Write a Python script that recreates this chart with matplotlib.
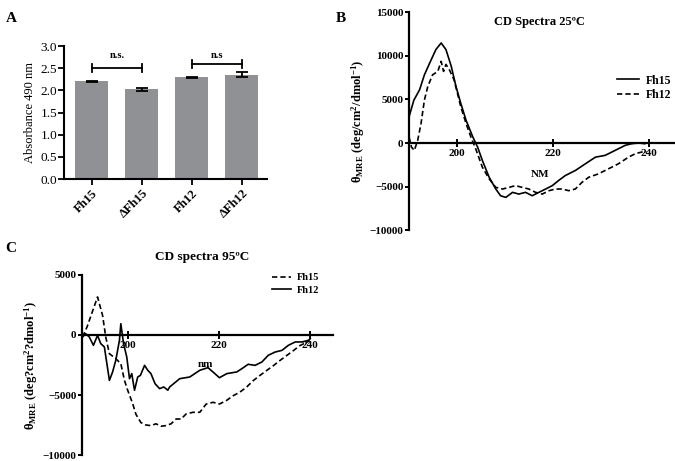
#!/usr/bin/env python3
# -*- coding: utf-8 -*-

"""
plot.py

Figura com tres paineis:
A - absorbancia 490 nm (barras com erro)
B - espectro CD a 25 C
C - espectro CD a 95 C
"""

import matplotlib
matplotlib.use("Agg")
import matplotlib.pyplot as plt

# ---- painel A ----
bar_labels = ["Fh15", "\u0394Fh15", "Fh12", "\u0394Fh12"]
bar_values = [2.20, 2.02, 2.29, 2.35]
bar_errors = [0.02, 0.04, 0.02, 0.06]

# ---- painel B (25 C) ----
b_fh15_nm = [190.0, 191.0, 192.2, 193.2, 194.3, 195.6, 196.7, 197.7, 198.8, 199.8,
             200.8, 201.9, 203.3, 204.3, 205.3, 206.7, 208.1, 209.1, 210.2, 211.6,
             212.9, 214.3, 215.7, 217.1, 218.5, 219.9, 221.2, 222.6, 224.7, 226.8,
             228.9, 230.9, 233.0, 235.1, 236.5, 237.9, 239.2]
b_fh15_val = [3000, 4900, 6100, 7800, 9150, 10700, 11460, 10700, 8800, 6460,
              4540, 2600, 700, -460, -2000, -3900, -5270, -6040, -6230, -5650,
              -5850, -5650, -6040, -5650, -5270, -4880, -4300, -3730, -3150, -2380,
              -1620, -1420, -850, -270, -80, 0, -80]

b_fh12_nm = [190.0, 190.5, 191.1, 191.8, 192.5, 193.2, 193.9, 194.9, 196.0, 196.7,
             197.2, 197.7, 198.4, 199.4, 200.1, 200.8, 201.9, 202.9, 203.9, 205.3,
             206.7, 208.1, 209.5, 210.9, 212.2, 213.6, 215.0, 216.4, 217.8, 219.2,
             220.6, 222.0, 223.3, 224.7, 226.1, 227.5, 229.5, 231.6, 233.7, 235.8,
             237.2, 238.5, 239.6]
b_fh12_val = [700, -460, -850, 300, 2230, 4900, 6460, 7800, 8200, 9350,
              8200, 9000, 8400, 7230, 5700, 4150, 2230, 700, -650, -2770,
              -4100, -5080, -5270, -5080, -4880, -5080, -5270, -5650, -5850, -5460,
              -5270, -5270, -5460, -5270, -4500, -3920, -3540, -2960, -2380, -1620,
              -1230, -1040, -1040]

# ---- painel C (95 C) ----
c_fh15_nm = [190.1, 191.1, 193.4, 194.5, 195.2, 196.0, 197.4, 198.5, 199.3, 200.0,
             201.1, 201.8, 202.9, 204.0, 205.1, 206.2, 207.3, 208.4, 209.5, 210.6,
             211.7, 212.8, 214.3, 215.8, 217.2, 218.7, 220.1, 221.6, 223.1, 224.5,
             226.0, 227.5, 228.9, 230.4, 231.9, 233.3, 234.8, 236.3, 237.7, 239.2,
             239.9]
c_fh15_val = [-170, 670, 3170, 1640, -170, -1560, -1970, -2390, -3780, -4600,
              -5720, -6600, -7300, -7500, -7550, -7400, -7600, -7550, -7400, -7000,
              -7000, -6580, -6440, -6440, -5750, -5610, -5750, -5470, -5060, -4780,
              -4360, -3800, -3390, -2970, -2560, -2140, -1720, -1300, -890, -610,
              -470]

c_fh12_nm = [190.1, 190.8, 191.6, 192.5, 193.4, 194.1, 194.9, 196.0, 196.7, 197.4,
             198.2, 198.5, 199.1, 199.8, 200.4, 200.9, 201.5, 202.2, 202.8, 203.7,
             204.4, 205.1, 206.0, 207.0, 207.9, 208.8, 209.2, 211.4, 213.6, 215.8,
             217.6, 219.1, 220.1, 221.7, 223.9, 225.0, 226.4, 227.9, 229.4, 230.8,
             232.3, 233.8, 235.2, 236.7, 238.2, 239.6, 240.0]
c_fh12_val = [-170, 110, -170, -860, -30, -720, -1000, -3780, -3080, -2110,
              -440, 940, -720, -1830, -3640, -3220, -4610, -3500, -3360, -2530,
              -2940, -3220, -4060, -4470, -4330, -4600, -4330, -3640, -3500, -2940,
              -2720, -3220, -3560, -3220, -3080, -2810, -2440, -2530, -2250, -1690,
              -1420, -1280, -860, -580, -580, -440, -310]

SERIF = ["Liberation Serif", "DejaVu Serif"]
BAR_COLOR = "#909194"
DASH = (0, (3.2, 1.8))


def style_cd_axis(ax, xlim, ylim, yticks):
    """Eixos estilo GraphPad: spine esquerda em x=190, eixo x em y=0."""
    ax.set_xlim(*xlim)
    ax.set_ylim(*ylim)
    ax.spines["top"].set_visible(False)
    ax.spines["right"].set_visible(False)
    ax.spines["bottom"].set_position(("data", 0))
    for s in ("left", "bottom"):
        ax.spines[s].set_linewidth(1.6)
    ax.set_xticks([200, 220, 240])
    ax.set_yticks(yticks)
    ax.tick_params(axis="y", direction="out", length=3, width=1.4, pad=1, labelsize=8)
    ax.tick_params(axis="x", direction="inout", length=6, width=1.4, pad=1, labelsize=8)
    for lab in ax.get_xticklabels() + ax.get_yticklabels():
        lab.set_fontweight("bold")


def panel_a(fig):
    ax = fig.add_axes([0.0948, 0.6117, 0.3007, 0.2885])
    xs = list(range(len(bar_values)))
    ax.bar(xs, bar_values, width=0.66, color=BAR_COLOR, zorder=2)
    ax.errorbar(xs, bar_values, yerr=bar_errors, fmt="none", ecolor="black",
                elinewidth=1.3, capsize=4, capthick=1.3, zorder=3)
    ax.set_xlim(-0.56, 3.5)
    ax.set_ylim(0, 3.0)
    ax.set_yticks([0.0, 0.5, 1.0, 1.5, 2.0, 2.5, 3.0])
    ax.set_yticklabels([f"{v:.1f}" for v in ax.get_yticks()])
    ax.set_xticks(xs)
    ax.set_xticklabels(bar_labels, rotation=45, ha="right", rotation_mode="anchor",
                       fontweight="bold", fontsize=9)
    ax.spines["top"].set_visible(False)
    ax.spines["right"].set_visible(False)
    for s in ("left", "bottom"):
        ax.spines[s].set_linewidth(1.5)
    ax.tick_params(axis="y", direction="out", length=4, width=1.3, labelsize=9.5, pad=1)
    ax.tick_params(axis="x", direction="out", length=4, width=1.3, pad=2)
    ax.set_ylabel("Absorbance 490 nm", fontsize=9, labelpad=3)

    # colchetes n.s.
    for (x0, x1, y, txt) in [(0, 1, 2.50, "n.s."), (2, 3, 2.59, "n.s")]:
        ax.plot([x0, x1], [y, y], color="black", lw=1.3, zorder=4)
        ax.plot([x0, x0], [y - 0.09, y + 0.09], color="black", lw=1.3, zorder=4)
        ax.plot([x1, x1], [y - 0.09, y + 0.09], color="black", lw=1.3, zorder=4)
        ax.text((x0 + x1) / 2, 2.68, txt, ha="center", va="bottom",
                fontsize=7.5, fontweight="bold")


def panel_b(fig):
    ax = fig.add_axes([0.606, 0.5004, 0.394, 0.4735])
    ax.plot(b_fh15_nm, b_fh15_val, color="black", lw=1.2, label="Fh15")
    ax.plot(b_fh12_nm, b_fh12_val, color="black", lw=1.2, ls=DASH, label="Fh12")
    style_cd_axis(ax, (190, 245.5), (-10000, 15000), [-10000, -5000, 0, 5000, 10000, 15000])
    ax.set_xlabel("NM", fontsize=8, fontweight="bold")
    ax.xaxis.set_label_coords(0.492, 0.276)
    ax.set_ylabel("\u03b8$_{\\mathrm{MRE}}$ (deg/cm$^{2}$/dmol$^{-1}$)", fontsize=9,
                  fontweight="bold", labelpad=2)
    ax.text(0.49, 0.955, "CD Spectra 25\u00baC", transform=ax.transAxes, ha="center",
            va="center", fontsize=9, fontweight="bold")
    ax.legend(loc="center", bbox_to_anchor=(0.885, 0.652), frameon=False,
              handlelength=1.8, handletextpad=0.6, labelspacing=0.25,
              prop={"family": SERIF, "weight": "bold", "size": 8.5})


def panel_c(fig):
    ax = fig.add_axes([0.1215, 0.0130, 0.372, 0.3905])
    ax.plot(c_fh15_nm, c_fh15_val, color="black", lw=1.2, ls=DASH, label="Fh15")
    ax.plot(c_fh12_nm, c_fh12_val, color="black", lw=1.2, label="Fh12")
    style_cd_axis(ax, (190, 245), (-10000, 5000), [-10000, -5000, 0, 5000])
    ax.set_xlabel("nm", fontsize=8, fontweight="bold")
    ax.xaxis.set_label_coords(0.49, 0.528)
    ax.set_ylabel("\u03b8$_{\\mathrm{MRE}}$ (deg?cm$^{2}$?dmol$^{-1}$)", fontsize=9,
                  fontweight="bold", labelpad=2)
    ax.text(0.48, 1.10, "CD spectra 95\u00baC", transform=ax.transAxes, ha="center",
            va="center", fontsize=9.5, fontweight="bold")
    ax.legend(loc="center", bbox_to_anchor=(0.85, 0.95), frameon=False,
              handlelength=1.8, handletextpad=0.6, labelspacing=0.3,
              prop={"family": SERIF, "weight": "bold", "size": 7.5})


def main():
    plt.rcParams["font.family"] = SERIF
    plt.rcParams["mathtext.fontset"] = "custom"
    plt.rcParams["mathtext.rm"] = "Liberation Serif:bold"
    plt.rcParams["mathtext.it"] = "Liberation Serif:bold"
    plt.rcParams["mathtext.bf"] = "Liberation Serif:bold"

    fig = plt.figure(figsize=(6.75, 4.61), dpi=100)
    panel_a(fig)
    panel_b(fig)
    panel_c(fig)

    # letras dos paineis
    for lbl, x, y in [("A", 0.008, 0.975), ("B", 0.498, 0.975), ("C", 0.008, 0.475)]:
        fig.text(x, y, lbl, fontsize=11, fontweight="bold", va="top", ha="left")

    fig.savefig("out.png", dpi=100)
    print("[OK] Wrote: out.png")


if __name__ == "__main__":
    main()
